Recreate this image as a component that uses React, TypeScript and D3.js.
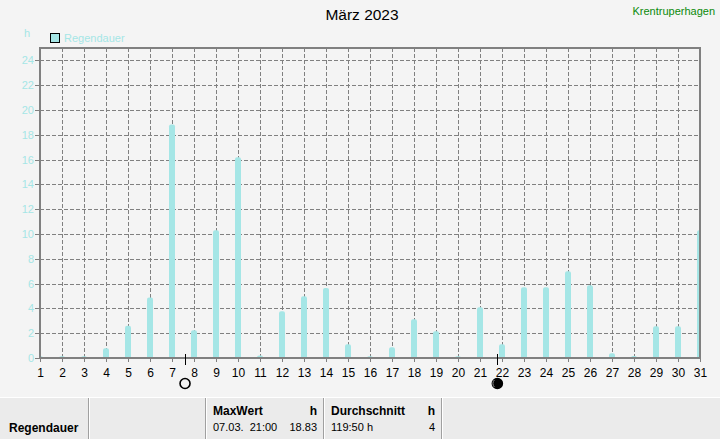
import { useEffect } from "react";
import * as d3 from "d3";

// daily rain duration in hours, March 2023
const days = d3.range(1, 32);
const rainHours = [
  0.15, 0.15, 0.15, 0.78, 2.6, 4.87, 18.83, 2.23, 10.3, 16.18,
  0.2, 3.77, 4.97, 5.65, 1.1, 0.15, 0.86, 3.12, 2.15, 0.15,
  4.09, 1.1, 5.7, 5.7, 6.99, 5.86, 0.38, 0.16, 2.56, 2.56, 10.3,
];
const yTicks = [0, 2, 4, 6, 8, 10, 12, 14, 16, 18, 20, 22, 24];
const moonDays = [7 + 13.67 / 24, 21 + 18.38 / 24];
const moonPhases = ["full", "new"];

const title = "März 2023";
const station = "Krentruperhagen";
const seriesName = "Regendauer";
const unit = "h";
const maxLabel = "MaxWert";
const maxWhen = "07.03.  21:00";
const maxValue = "18.83";
const avgLabel = "Durchschnitt";
const sumText = "119:50 h";
const avgValue = "4";

const W = 720;
const H = 439;
const barColor = "#a5e6e6";
const gridColor = "#808080";
const font = "'Liberation Sans', Arial, sans-serif";

export default function App() {
  useEffect(() => {
    document.body.style.margin = "0";
    document.body.style.background = "#f4f4f4";
  }, []);

  const x = d3.scaleLinear().domain([1, 31]).range([40, 700]);
  const y = d3.scaleLinear().domain([0, 25]).range([358, 48]);
  const barW = 6;

  const barPath = (d: number, v: number) => {
    const x0 = x(d) - barW / 2;
    const top = y(v);
    const base = y(0);
    const h = base - top;
    const r = Math.min(2, h);
    return `M${x0},${base}V${top + r}Q${x0},${top} ${x0 + r},${top}H${x0 + barW - r}Q${x0 + barW},${top} ${x0 + barW},${top + r}V${base}Z`;
  };

  const tableTop = 397;
  const seps = [88, 205, 323, 441];

  return (
    <svg width={W} height={H} style={{ display: "block", background: "#f4f4f4" }} fontFamily={font}>
      <rect width={W} height={H} fill="#f4f4f4" />
      <defs>
        <clipPath id="plot">
          <rect x={x(1)} y={y(25)} width={x(31) - x(1)} height={y(0) - y(25)} />
        </clipPath>
      </defs>

      {/* title + station */}
      <text x={362} y={20} textAnchor="middle" fontSize={15.5} fill="#000">{title}</text>
      <text x={715} y={15} textAnchor="end" fontSize={11} fill="#0a8a0a">{station}</text>

      {/* legend */}
      <text x={24} y={37} fontSize={11} fill={barColor}>{unit}</text>
      <rect x={50.5} y={33.5} width={9} height={9} fill={barColor} stroke="#000" strokeWidth={1} />
      <text x={64} y={42} fontSize={11} fill={barColor}>{seriesName}</text>

      {/* grid */}
      {yTicks.filter(t => t > 0).map(t => (
        <line key={"h" + t} x1={x(1)} x2={x(31)} y1={Math.round(y(t)) + 0.5} y2={Math.round(y(t)) + 0.5}
          stroke={gridColor} strokeDasharray="4,2" />
      ))}
      {days.filter(d => d > 1 && d < 31).map(d => (
        <line key={"v" + d} x1={x(d) + 0.5} x2={x(d) + 0.5} y1={y(25)} y2={y(0)}
          stroke={gridColor} strokeDasharray="4,2" />
      ))}

      {/* bars */}
      <g clipPath="url(#plot)">
        {rainHours.map((v, i) => (
          <path key={i} d={barPath(days[i], v)} fill={barColor} />
        ))}
      </g>

      {/* frame */}
      <path d={`M${x(1)},${y(0)}V${y(25)}H${x(31)}V${y(0)}`} fill="none" stroke={gridColor} strokeWidth={2} />
      <line x1={x(1) - 1} x2={x(31) + 1} y1={y(0)} y2={y(0)} stroke={gridColor} strokeWidth={2} />

      {/* y axis */}
      {yTicks.map(t => (
        <g key={"yt" + t}>
          <line x1={35} x2={40} y1={Math.round(y(t)) + 0.5} y2={Math.round(y(t)) + 0.5} stroke={gridColor} />
          <text x={34} y={y(t) + 4} textAnchor="end" fontSize={11} fill={barColor}>{t}</text>
        </g>
      ))}

      {/* x axis */}
      {days.map(d => (
        <g key={"xt" + d}>
          <line x1={x(d) + 0.5} x2={x(d) + 0.5} y1={y(0)} y2={y(0) + 4} stroke={gridColor} />
          <text x={x(d) + 0.5} y={377} textAnchor="middle" fontSize={12} fill="#000">{d}</text>
        </g>
      ))}

      {/* moon phases */}
      {moonDays.map((md, i) => (
        <g key={"m" + i}>
          <line x1={Math.round(x(md)) + 0.5} x2={Math.round(x(md)) + 0.5} y1={354} y2={365} stroke="#000" />
          <circle cx={x(md) + 0.5} cy={383.5} r={5} fill={moonPhases[i] === "full" ? "#f4f4f4" : "#000"}
            stroke="#000" strokeWidth={1.6} />
          {moonPhases[i] === "new" && (
            <path d={`M${x(md) - 2.5},${380}a5,5 0 0 0 0,7`} fill="none" stroke="#888" strokeWidth={1} />
          )}
        </g>
      ))}

      {/* summary table */}
      <rect x={0} y={tableTop} width={W} height={H - tableTop} fill="#ebebeb" />
      <line x1={0} x2={W} y1={tableTop + 0.5} y2={tableTop + 0.5} stroke="#ffffff" />
      {seps.map(s => (
        <g key={"s" + s}>
          <line x1={s + 0.5} x2={s + 0.5} y1={tableTop + 1} y2={H} stroke="#a0a0a0" />
          <line x1={s + 1.5} x2={s + 1.5} y1={tableTop + 1} y2={H} stroke="#ffffff" />
        </g>
      ))}
      <text x={9} y={432} fontSize={12} fontWeight="bold" fill="#000">{seriesName}</text>

      <text x={213} y={415} fontSize={12} fontWeight="bold" fill="#000">{maxLabel}</text>
      <text x={317} y={415} fontSize={12} fontWeight="bold" fill="#000" textAnchor="end">{unit}</text>
      <text x={213} y={431} fontSize={11} fill="#000" style={{ whiteSpace: "pre" }}>{maxWhen}</text>
      <text x={317} y={431} fontSize={11} fill="#000" textAnchor="end">{maxValue}</text>

      <text x={331} y={415} fontSize={12} fontWeight="bold" fill="#000">{avgLabel}</text>
      <text x={435} y={415} fontSize={12} fontWeight="bold" fill="#000" textAnchor="end">{unit}</text>
      <text x={331} y={431} fontSize={11} fill="#000">{sumText}</text>
      <text x={435} y={431} fontSize={11} fill="#000" textAnchor="end">{avgValue}</text>
    </svg>
  );
}
